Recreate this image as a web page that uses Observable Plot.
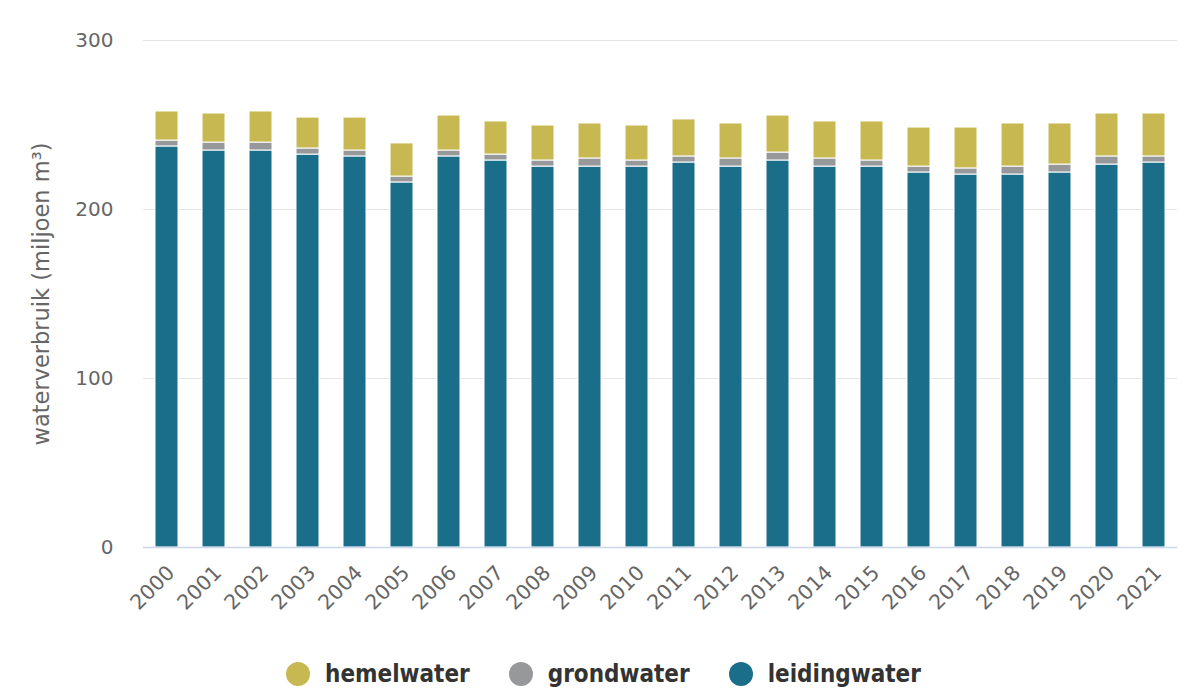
<!DOCTYPE html>
<html>
<head>
<meta charset="utf-8">
<script src="https://cdn.jsdelivr.net/npm/d3@7"></script>
<script src="https://cdn.jsdelivr.net/npm/@observablehq/plot@0.6"></script>
<style>
  html, body { margin: 0; padding: 0; background: #fff; }
  body { position: relative; width: 1189px; height: 698px; overflow: hidden; }
  #chart svg { display: block; }
  #legend { position: absolute; left: 286px; top: 650px; height: 48px; display: flex; align-items: center; font-family: "DejaVu Sans Condensed", "DejaVu Sans", sans-serif; font-weight: bold; font-size: 24px; color: #333333; white-space: nowrap; }
  .item { display: flex; align-items: center; margin-right: 39px; }
  .dot { width: 24px; height: 24px; border-radius: 50%; margin-right: 15px; flex: none; }
</style>
</head>
<body>
<div id="chart"></div>
<div id="legend"></div>
<script>
const years = ["2000","2001","2002","2003","2004","2005","2006","2007","2008","2009","2010","2011","2012","2013","2014","2015","2016","2017","2018","2019","2020","2021"];
const leidingwater = [237.3, 234.9, 234.9, 232.5, 231.4, 216.0, 231.4, 229.0, 225.4, 225.4, 225.4, 227.8, 225.4, 229.0, 225.4, 225.4, 221.9, 220.7, 220.7, 221.9, 226.6, 227.8];
const grondwater = [3.5, 4.7, 4.7, 3.6, 3.5, 3.5, 3.5, 3.5, 3.6, 4.8, 3.6, 3.6, 4.8, 4.7, 4.8, 3.6, 3.5, 3.6, 4.7, 4.7, 4.8, 3.6];
const hemelwater = [17.2, 17.2, 18.4, 18.3, 19.5, 19.6, 20.7, 19.6, 20.7, 20.7, 20.7, 21.9, 20.7, 21.9, 21.9, 23.1, 23.1, 24.2, 25.5, 24.3, 25.4, 25.4];
const seriesNames = ["leidingwater", "grondwater", "hemelwater"];
const seriesColors = ["#1b6e8a", "#96989a", "#c8b852"];
const yTicks = [0, 100, 200, 300];
const yLabel = "waterverbruik (miljoen m³)";

const seriesValues = [leidingwater, grondwater, hemelwater];
const data = [];
seriesNames.forEach((s, i) => years.forEach((y, j) => data.push({year: y, series: s, value: seriesValues[i][j]})));

const chart = Plot.plot({
  width: 1189,
  height: 650,
  marginLeft: 143,
  marginRight: 12,
  marginTop: 40,
  marginBottom: 103,
  style: { fontFamily: "DejaVu Sans, sans-serif", color: "#666666", background: "#fff" },
  x: { domain: years, padding: 0.51, range: [131.5, 1189.5], label: null, axis: null },
  y: { domain: [0, 300], label: null, axis: null },
  color: { domain: seriesNames, range: seriesColors },
  marks: [
    Plot.gridY(yTicks.filter(d => d > 0), { stroke: "#e6e6e6", strokeOpacity: 1, strokeWidth: 1 }),
    Plot.barY(data, { x: "year", y: "value", fill: "series", stroke: "white", strokeWidth: 1, order: seriesNames }),
    Plot.ruleY([0], { stroke: "#ccd6eb", strokeWidth: 1.5 }),
    Plot.axisY({ ticks: yTicks, tickSize: 0, tickPadding: 30, fontSize: 20, label: null, fill: "#666666" }),
    Plot.text(years, { x: d => d, frameAnchor: "bottom", rotate: -45, textAnchor: "end", lineAnchor: "middle", dx: 4, dy: 22, fontSize: 20.5, fill: "#666666" }),
    Plot.text([yLabel], { frameAnchor: "left", textAnchor: "middle", dx: -102, rotate: -90, fontSize: 22.5, fill: "#666666" })
  ]
});
document.getElementById("chart").appendChild(chart);

const legendOrder = [2, 1, 0];
const legend = document.getElementById("legend");
legendOrder.forEach(i => {
  const item = document.createElement("div");
  item.className = "item";
  const dot = document.createElement("span");
  dot.className = "dot";
  dot.style.background = seriesColors[i];
  const label = document.createElement("span");
  label.textContent = seriesNames[i];
  item.appendChild(dot);
  item.appendChild(label);
  legend.appendChild(item);
});
</script>
</body>
</html>
